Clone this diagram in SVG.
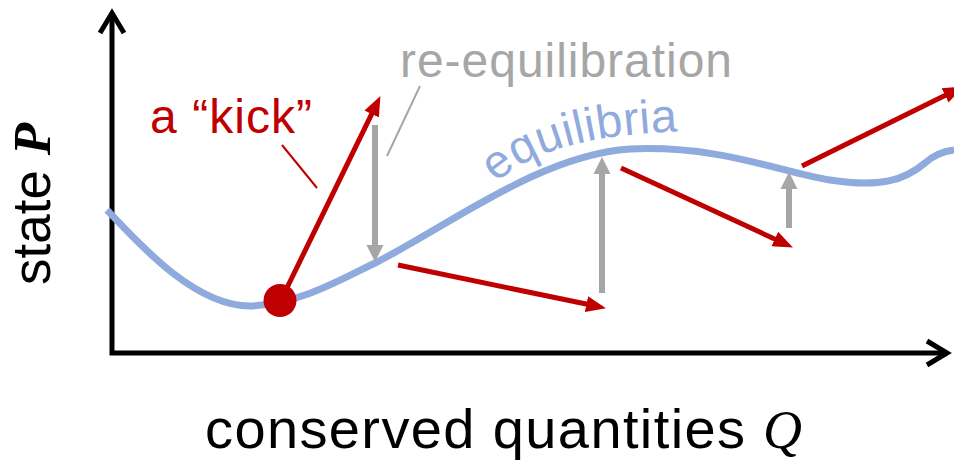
<svg xmlns="http://www.w3.org/2000/svg" width="954" height="461" viewBox="0 0 954 461">
  <style>
    .sans { font-family: "Liberation Sans", Arial, sans-serif; }
    .red { stroke: #C00000; fill: none; }
    .gray { stroke: #A6A6A6; fill: none; }
    .kick { stroke-width: 5; }
    .reeq { stroke-width: 6; }
    .leader { stroke-width: 2; }
  </style>
  <defs>
    <marker id="redHead" markerUnits="userSpaceOnUse" markerWidth="22" markerHeight="18" viewBox="0 -9 22 18" refX="1" refY="0" orient="auto">
      <path d="M0,-8 L20,0 L0,8 Z" fill="#C00000"/>
    </marker>
    <marker id="grayHead" markerUnits="userSpaceOnUse" markerWidth="20" markerHeight="20" viewBox="0 -10 20 20" refX="1" refY="0" orient="auto">
      <path d="M0,-8.5 L17,0 L0,8.5 Z" fill="#A6A6A6"/>
    </marker>
    <path id="eqPath" d="M496,183 C530,152 590,130 720,131"/>
  </defs>

  <g id="axes" fill="none" stroke="#000" stroke-width="5">
    <path d="M112,14 V353 H947" stroke-linejoin="miter"/>
    <path d="M100,33 L112,13 L124,33" stroke-linejoin="miter" stroke-linecap="butt"/>
    <path d="M927,341 L947,353 L927,365" stroke-linejoin="miter" stroke-linecap="butt"/>
  </g>

  <g id="equilibria-curve">
    <path d="M107,210 C140,245 195,306 250,306 C300,304 340,280 377,262 C450,225 540,155 630,149 C720,145 780,172 830,180 C880,188 905,180 925,163 C935,154 945,151 954,150" fill="none" stroke="#8FAADC" stroke-width="7"/>
  </g>

  <g id="connectors">
    <line class="red leader" x1="282" y1="145" x2="317" y2="188"/>
    <line class="gray leader" x1="387" y1="156" x2="420" y2="86"/>
    <line class="red kick" x1="282" y1="298" x2="372.1" y2="113.2" marker-end="url(#redHead)"/>
    <line class="gray reeq" x1="375" y1="125" x2="375" y2="246" marker-end="url(#grayHead)"/>
    <line class="red kick" x1="398" y1="265" x2="587.4" y2="304.3" marker-end="url(#redHead)"/>
    <line class="gray reeq" x1="602" y1="293" x2="602" y2="173" marker-end="url(#grayHead)"/>
    <line class="red kick" x1="621" y1="168" x2="775.7" y2="239.5" marker-end="url(#redHead)"/>
    <line class="gray reeq" x1="789" y1="228" x2="789" y2="188" marker-end="url(#grayHead)"/>
    <line class="red kick" x1="802" y1="166" x2="945.9" y2="95" marker-end="url(#redHead)"/>
  </g>

  <g id="start-point">
    <circle cx="280" cy="300.5" r="16.5" fill="#C00000"/>
  </g>

  <g id="label-kick">
    <text class="sans" x="150" y="133" font-size="48" fill="#C00000" textLength="162" lengthAdjust="spacing">a “kick”</text>
  </g>
  <g id="label-reequilibration">
    <text class="sans" x="400" y="77" font-size="48" fill="#A6A6A6" textLength="332" lengthAdjust="spacing">re-equilibration</text>
  </g>
  <g id="label-equilibria">
    <text class="sans" font-size="47" fill="#8FAADC" letter-spacing="0.5"><textPath href="#eqPath">equilibria</textPath></text>
  </g>
  <g id="label-y">
    <text class="sans" transform="translate(50,285) rotate(-90)" font-size="53" fill="#000">state <tspan font-family="'Liberation Serif', 'Times New Roman', serif" font-weight="bold" font-style="italic">P</tspan></text>
  </g>
  <g id="label-x">
    <text class="sans" x="205" y="448" font-size="56" fill="#000" textLength="540" lengthAdjust="spacing">conserved quantities</text>
    <text x="763" y="448" font-size="54" font-family="'Liberation Serif', 'Times New Roman', serif" font-style="italic" fill="#000">Q</text>
  </g>
</svg>
